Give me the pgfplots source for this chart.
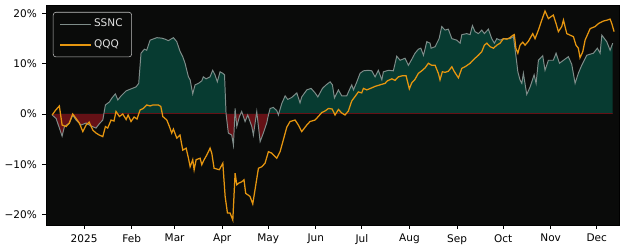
\documentclass[border=0pt]{standalone}
\usepackage{fontspec}
\setmainfont{DejaVu Sans}
\usepackage{pgfplots}
\usepackage{pgfplotstable}
\pgfplotsset{compat=1.18}

\definecolor{bgc}{HTML}{0A0B0A}
\definecolor{posc}{HTML}{073B31}
\definecolor{negc}{HTML}{651116}
\definecolor{ssncc}{HTML}{7F8D8A}
\definecolor{qqqc}{HTML}{E6960F}

% x = days since 1 Jan 2025, y = return in %
\pgfplotstableread{
x y
-20.8 -0.2
-18.2 -0.9
-14.3 -4.4
-12.8 -2.5
-9.6 -1.8
-7.4 -0.2
-5.2 -1.2
-2.0 -2.2
1.3 -1.8
4.6 -2.4
7.8 -2.8
9.8 -2.0
12.2 -1.2
13.9 1.8
16.5 2.4
18.2 3.2
20.4 4.0
22.0 2.8
24.1 3.6
27.4 4.6
30.6 5.0
33.9 5.4
35.6 6.1
37.1 12.1
39.3 12.9
40.8 12.7
43.0 14.7
47.4 15.2
50.6 15.1
52.8 14.9
54.9 14.6
57.1 15.0
58.2 15.2
60.4 14.4
62.5 12.5
64.3 11.4
65.8 10.1
68.0 7.4
69.1 6.8
70.8 4.0
72.3 5.8
74.5 6.1
76.7 6.6
77.7 7.4
79.5 7.0
82.1 7.4
83.8 8.7
85.3 7.8
86.8 6.4
88.6 8.4
90.4 8.1
91.5 7.8
92.5 0.1
94.0 -3.8
96.2 -4.2
97.3 -6.2
98.4 1.1
99.5 -2.5
101.2 -0.5
102.7 0.5
104.9 -1.5
106.6 -0.2
109.3 -2.5
110.3 -4.2
112.5 0.5
114.7 -5.5
116.8 -3.8
119.0 -1.8
120.1 -0.2
121.2 1.1
123.3 1.3
125.5 0.7
126.6 -0.2
128.8 2.1
131.0 3.6
132.7 2.9
135.3 3.3
138.6 4.2
140.7 2.2
141.8 3.4
145.1 4.8
147.9 5.1
150.5 4.2
152.3 3.4
155.3 5.1
157.7 5.8
160.3 6.4
161.8 5.8
163.1 3.2
165.7 4.8
167.9 3.6
171.1 3.6
173.3 5.1
174.4 5.8
175.5 4.8
177.7 6.4
179.8 8.1
182.0 8.6
185.2 8.7
187.4 8.6
189.6 7.4
191.7 8.7
194.0 6.8
195.0 8.4
198.3 8.7
201.5 8.6
203.7 11.5
205.9 10.7
209.1 11.1
211.3 9.7
213.5 10.9
215.6 12.1
217.8 12.9
219.4 13.1
221.1 11.7
223.3 14.4
225.4 14.1
226.1 13.1
228.7 13.4
231.3 15.0
233.0 17.4
235.2 16.7
237.3 16.9
239.6 15.0
242.8 14.7
245.0 14.1
246.1 15.8
249.3 16.0
251.5 15.8
253.0 17.6
254.7 16.4
256.9 16.0
259.1 16.7
260.8 16.0
263.4 16.9
265.6 15.0
267.3 14.1
268.9 15.0
271.0 14.7
273.2 15.0
277.5 15.0
279.7 15.4
281.3 11.7
282.6 8.4
284.0 6.8
285.2 6.1
286.2 8.1
288.4 3.9
290.6 5.4
293.2 7.8
294.5 6.1
296.0 10.7
298.8 11.6
300.3 8.7
302.5 10.7
305.7 10.7
307.5 12.1
309.7 10.1
312.3 10.7
315.5 11.4
317.7 9.9
319.9 6.1
322.0 8.1
324.2 9.7
327.5 11.7
331.8 12.1
334.4 13.1
336.2 12.1
337.3 15.7
340.5 14.4
342.7 12.7
344.4 14.1
}\ssnctab

\pgfplotstableread{
x y
-20.8 -0.2
-18.7 0.7
-16.1 1.6
-14.3 -2.2
-11.7 -2.5
-9.6 -1.8
-7.4 0.0
-5.2 -0.9
-3.1 -1.8
-0.8 -3.5
1.3 -2.2
3.3 -1.6
5.7 -3.2
7.8 -3.8
10.0 -4.2
12.2 -4.5
13.9 -2.5
15.4 -2.8
17.6 -1.2
19.5 -1.4
20.8 0.5
23.0 -0.5
25.2 0.0
27.4 -1.1
28.7 -0.2
30.6 -1.5
32.6 -0.6
34.5 -1.0
36.5 0.8
38.6 1.1
40.8 1.8
43.0 1.6
44.8 1.8
48.4 1.8
50.0 1.5
51.3 -0.5
53.9 -1.2
55.6 -2.5
57.1 -3.8
58.2 -3.0
60.4 -4.8
62.5 -4.2
64.3 -7.2
66.5 -6.8
68.0 -8.8
69.1 -10.5
70.8 -9.1
71.7 -11.1
73.0 -9.1
75.6 -8.8
76.7 -10.1
78.2 -9.1
79.9 -8.2
82.1 -6.8
83.2 -7.8
84.7 -10.8
88.1 -11.1
90.4 -9.8
91.9 -16.4
93.4 -19.7
95.1 -19.7
96.9 -21.1
98.4 -11.8
99.5 -14.1
100.5 -13.8
102.7 -13.5
104.2 -13.1
105.3 -15.8
108.1 -16.4
109.9 -17.9
113.6 -10.8
115.8 -10.5
117.9 -9.8
120.1 -7.5
122.3 -7.8
125.5 -8.8
127.7 -7.5
129.5 -5.5
132.1 -2.6
134.2 -1.5
137.5 -1.2
139.6 -2.2
141.8 -3.5
145.1 -2.2
147.2 -1.5
150.5 -1.2
152.6 -0.5
154.9 0.3
157.0 0.6
159.2 1.1
161.6 1.0
163.5 -0.2
165.7 0.9
167.9 0.2
170.0 -0.2
172.2 0.6
174.4 2.6
176.6 3.5
178.7 4.4
180.9 4.2
182.0 5.1
184.2 4.8
187.4 5.2
189.6 5.5
192.8 5.8
196.1 6.1
197.6 6.6
200.5 7.0
202.6 6.7
204.8 7.4
207.2 7.6
209.8 7.6
211.9 5.0
213.5 6.2
215.6 6.9
217.8 8.1
220.0 8.6
222.2 9.2
224.3 10.1
226.5 9.7
228.7 9.7
230.8 8.1
231.9 6.8
233.4 8.4
235.2 8.3
237.3 8.5
239.6 9.4
241.3 8.4
243.9 7.2
246.1 9.1
248.2 9.4
251.5 10.1
254.7 11.1
256.9 11.7
259.1 12.4
260.8 13.7
262.4 14.1
264.5 13.4
266.7 13.1
268.9 13.7
271.0 14.1
273.2 15.0
275.4 14.9
277.5 15.2
279.0 15.6
280.3 15.8
281.3 13.1
282.6 12.1
284.0 13.7
285.8 14.3
287.3 13.7
289.5 14.5
292.3 16.0
293.8 15.0
296.0 16.7
298.2 18.7
300.3 20.5
302.5 19.0
305.7 19.7
307.5 18.0
309.0 16.4
311.2 17.4
312.3 18.7
314.5 16.0
316.6 15.7
318.8 15.4
320.5 13.7
322.0 13.1
323.1 11.2
324.9 12.4
326.4 14.7
329.7 17.0
332.9 17.4
335.1 18.0
338.3 18.5
340.9 18.7
342.7 18.9
343.8 18.0
345.3 16.4
}\qqqtab

\begin{document}
\begin{tikzpicture}
\begin{axis}[
  at={(0,0)}, anchor=south west,
  scale only axis, width=412.56bp, height=158.4bp,
  xmin=-24.8, xmax=348.5, ymin=-22.1, ymax=21.7,
  axis background/.style={fill=bgc},
  axis line style={black, line width=0.6bp},
  xtick={0,31,59,90,120,151,181,212,243,273,304,334},
  xticklabels={2025,Feb,Mar,Apr,May,Jun,Jul,Aug,Sep,Oct,Nov,Dec},
  ytick={-20,-10,0,10,20},
  yticklabels={−20\%,−10\%,0\%,10\%,20\%},
  tick align=outside, xtick pos=bottom, ytick pos=left,
  major tick length=2.6bp,
  tick style={black, line width=0.6bp},
  ticklabel style={font=\fontsize{7.6}{9}\selectfont},
  xticklabel style={yshift=-0.5bp},
  yticklabel style={xshift=-0.5bp},
  legend style={at={(rel axis cs:0,1)}, anchor=north west,
    xshift=5bp, yshift=-5bp,
    fill=bgc, draw=white!75!black, rounded corners=2bp,
    text=white!88!black, font=\fontsize{7.6}{9}\selectfont,
    inner xsep=4.5bp, inner ysep=3bp, row sep=4bp},
  legend cell align=left,
  legend image code/.code={\draw[#1] (0bp,0bp) -- (17bp,0bp); \path (0bp,0bp) -- (22bp,0bp);},
]
\begin{scope}
\clip (axis cs:-30,0) rectangle (axis cs:360,30);
\addplot[fill=posc, draw=none, forget plot] table[x=x,y=y] {\ssnctab} \closedcycle;
\end{scope}
\begin{scope}
\clip (axis cs:-30,-30) rectangle (axis cs:360,0);
\addplot[fill=negc, draw=none, forget plot] table[x=x,y=y] {\ssnctab} \closedcycle;
\end{scope}
\addplot[ssncc, line width=0.7bp] table[x=x,y=y] {\ssnctab};
\addlegendentry{SSNC}
\addplot[qqqc, line width=0.9bp] table[x=x,y=y] {\qqqtab};
\addlegendentry{QQQ}
\end{axis}
\pgfresetboundingbox
\path[use as bounding box] (-33.12bp,-18bp) rectangle (416.88bp,162bp);
\end{tikzpicture}
\end{document}
